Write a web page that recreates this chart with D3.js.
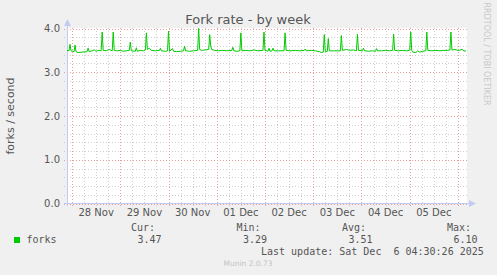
<!DOCTYPE html>
<html>
<head>
<meta charset="utf-8">
<script src="https://cdn.jsdelivr.net/npm/d3@7"></script>
<style>
  body { margin: 0; background: #f0f0f0; }
  svg { display: block; font-family: "DejaVu Sans", sans-serif; }
  .mono { font-family: "DejaVu Sans Mono", monospace; font-size: 10px; fill: #555; white-space: pre; }
</style>
</head>
<body>
<svg width="497" height="275"></svg>
<script>
// fork rate readings (30 min samples)
var times = [
  "2025-11-27 21:30","2025-11-27 22:30","2025-11-27 23:00","2025-11-27 23:30","2025-11-28 00:30","2025-11-28 01:00","2025-11-28 01:30","2025-11-28 02:00",
  "2025-11-28 03:00","2025-11-28 05:00","2025-11-28 07:30","2025-11-28 08:00","2025-11-28 08:30","2025-11-28 10:00","2025-11-28 11:00","2025-11-28 12:00",
  "2025-11-28 13:00","2025-11-28 14:30","2025-11-28 15:00","2025-11-28 15:30","2025-11-28 17:00","2025-11-28 18:30","2025-11-28 20:00","2025-11-28 20:30",
  "2025-11-28 21:00","2025-11-28 22:30","2025-11-29 00:00","2025-11-29 01:30","2025-11-29 03:00","2025-11-29 04:30","2025-11-29 05:00","2025-11-29 05:30",
  "2025-11-29 07:30","2025-11-29 08:00","2025-11-29 08:30","2025-11-29 10:00","2025-11-29 11:30","2025-11-29 12:30","2025-11-29 13:00","2025-11-29 13:30",
  "2025-11-29 14:30","2025-11-29 15:30","2025-11-29 17:30","2025-11-29 19:30","2025-11-29 20:00","2025-11-29 20:30","2025-11-29 22:30","2025-11-29 23:30",
  "2025-11-30 00:00","2025-11-30 00:30","2025-11-30 02:00","2025-11-30 02:30","2025-11-30 04:00","2025-11-30 06:00","2025-11-30 07:30","2025-11-30 08:00",
  "2025-11-30 08:30","2025-11-30 10:30","2025-11-30 12:30","2025-11-30 14:30","2025-11-30 15:00","2025-11-30 15:30","2025-11-30 16:30","2025-11-30 18:00",
  "2025-11-30 20:00","2025-11-30 20:30","2025-11-30 21:00","2025-11-30 21:30","2025-11-30 23:00","2025-12-01 01:00","2025-12-01 03:00","2025-12-01 05:00",
  "2025-12-01 07:30","2025-12-01 08:00","2025-12-01 08:30","2025-12-01 10:00","2025-12-01 11:30","2025-12-01 12:00","2025-12-01 12:30","2025-12-01 14:30",
  "2025-12-01 16:30","2025-12-01 18:30","2025-12-01 20:30","2025-12-01 23:00","2025-12-01 23:30","2025-12-02 00:00","2025-12-02 01:30","2025-12-02 02:00",
  "2025-12-02 02:30","2025-12-02 03:30","2025-12-02 04:00","2025-12-02 04:30","2025-12-02 06:30","2025-12-02 09:30","2025-12-02 10:00","2025-12-02 10:30",
  "2025-12-02 12:30","2025-12-02 15:00","2025-12-02 17:00","2025-12-02 19:30","2025-12-02 20:00","2025-12-02 20:30","2025-12-02 23:00","2025-12-03 01:00",
  "2025-12-03 03:00","2025-12-03 04:00","2025-12-03 05:00","2025-12-03 05:30","2025-12-03 06:00","2025-12-03 07:00","2025-12-03 07:30","2025-12-03 08:00",
  "2025-12-03 10:00","2025-12-03 12:00","2025-12-03 13:30","2025-12-03 14:00","2025-12-03 14:30","2025-12-03 16:30","2025-12-03 18:30","2025-12-03 20:00",
  "2025-12-03 21:30","2025-12-03 22:00","2025-12-03 22:30","2025-12-04 00:30","2025-12-04 01:00","2025-12-04 01:30","2025-12-04 03:30","2025-12-04 05:30",
  "2025-12-04 07:00","2025-12-04 07:30","2025-12-04 08:00","2025-12-04 10:00","2025-12-04 12:00","2025-12-04 14:00","2025-12-04 15:30","2025-12-04 16:00",
  "2025-12-04 16:30","2025-12-04 18:30","2025-12-04 20:30","2025-12-04 22:30","2025-12-05 00:00","2025-12-05 00:30","2025-12-05 01:00","2025-12-05 01:30",
  "2025-12-05 03:00","2025-12-05 04:00","2025-12-05 05:00","2025-12-05 06:30","2025-12-05 08:00","2025-12-05 08:30","2025-12-05 09:00","2025-12-05 11:00",
  "2025-12-05 13:00","2025-12-05 15:00","2025-12-05 17:00","2025-12-05 19:00","2025-12-05 20:00","2025-12-05 20:30","2025-12-05 21:00","2025-12-05 22:30",
  "2025-12-06 00:00","2025-12-06 01:30","2025-12-06 02:00","2025-12-06 02:30","2025-12-06 03:30","2025-12-06 04:00"
];
var forks = [
  3.50,3.49,3.64,3.49,3.48,3.47,3.62,3.47,
  3.45,3.46,3.47,3.55,3.47,3.49,3.51,3.48,
  3.50,3.49,3.92,3.50,3.49,3.52,3.49,3.92,
  3.50,3.49,3.50,3.48,3.49,3.50,3.69,3.49,
  3.48,3.56,3.48,3.50,3.49,3.51,3.90,3.52,
  3.55,3.50,3.49,3.50,3.55,3.49,3.48,3.49,
  3.94,3.48,3.54,3.48,3.47,3.48,3.49,3.60,
  3.49,3.48,3.49,3.50,4.00,3.52,3.50,3.51,
  3.52,3.86,3.60,3.52,3.50,3.49,3.50,3.49,
  3.50,3.57,3.49,3.48,3.49,3.90,3.49,3.50,
  3.49,3.51,3.49,3.50,3.92,3.50,3.48,3.55,
  3.48,3.49,3.55,3.49,3.49,3.49,3.90,3.50,
  3.49,3.50,3.49,3.50,3.53,3.49,3.50,3.49,
  3.47,3.45,3.46,3.86,3.47,3.48,3.77,3.49,
  3.49,3.49,3.49,3.84,3.50,3.52,3.50,3.51,
  3.49,3.87,3.50,3.49,3.55,3.49,3.48,3.49,
  3.48,3.54,3.49,3.49,3.50,3.49,3.50,3.87,
  3.50,3.49,3.50,3.49,3.50,3.92,3.50,3.46,
  3.45,3.49,3.46,3.48,3.49,3.92,3.50,3.49,
  3.50,3.49,3.50,3.50,3.51,3.92,3.51,3.52,
  3.50,3.51,3.53,3.50,3.48,3.50
];
var yTicks = [0, 1, 2, 3, 4];
var legendHeads = ["Cur:", "Min:", "Avg:", "Max:"];
var legendVals = ["3.47", "3.29", "3.51", "6.10"];

var svg = d3.select("svg");
var parse = d3.utcParse("%Y-%m-%d %H:%M");
var data = times.map(function(t, i) { return {t: parse(t), v: forks[i]}; });

var x = d3.scaleUtc()
    .domain([parse("2025-11-27 21:30"), parse("2025-12-06 04:30")])
    .range([67, 467]);
var y = d3.scaleLinear().domain([0, 4]).range([203.5, 28.5]);

var px = function(v) { return Math.round(v) + 0.5; };

svg.append("rect").attr("width", 497).attr("height", 275).attr("fill", "#f0f0f0");
svg.append("rect")
    .attr("x", 67).attr("y", 28)
    .attr("width", 400).attr("height", 176)
    .attr("fill", "#ffffff");

var grid = svg.append("g").attr("shape-rendering", "crispEdges");

// minor grid
var minorY = d3.range(0, 4.01, 0.2).filter(function(d) { return Math.abs(d - Math.round(d)) > 0.01; });
grid.selectAll(".hmin").data(minorY).enter().append("line")
    .attr("x1", 64).attr("x2", 467)
    .attr("y1", function(d) { return px(y(d)); }).attr("y2", function(d) { return px(y(d)); })
    .attr("stroke", "#cfcfcf").attr("stroke-dasharray", "1,2");

var sixHours = x.ticks(d3.utcHour.every(6)).filter(function(d) { return d.getUTCHours() != 0; });
grid.selectAll(".vmin").data(sixHours).enter().append("line")
    .attr("x1", function(d) { return px(x(d)); }).attr("x2", function(d) { return px(x(d)); })
    .attr("y1", 28).attr("y2", 206)
    .attr("stroke", "#cfcfcf").attr("stroke-dasharray", "1,2");

// major grid
grid.selectAll(".hmaj").data(yTicks).enter().append("line")
    .attr("x1", 64).attr("x2", 467)
    .attr("y1", function(d) { return px(y(d)); }).attr("y2", function(d) { return px(y(d)); })
    .attr("stroke", "#eba0a0").attr("stroke-dasharray", "1,2");

var days = x.ticks(d3.utcDay.every(1));
grid.selectAll(".vmaj").data(days).enter().append("line")
    .attr("x1", function(d) { return px(x(d)); }).attr("x2", function(d) { return px(x(d)); })
    .attr("y1", 28).attr("y2", 206)
    .attr("stroke", "#eba0a0").attr("stroke-dasharray", "1,2");

// y labels
svg.selectAll(".ylab").data(yTicks).enter().append("text")
    .attr("x", 60).attr("y", function(d) { return y(d); })
    .attr("dy", "0.36em")
    .attr("text-anchor", "end")
    .attr("font-size", "10px").attr("fill", "#555")
    .text(function(d) { return d3.format(".1f")(d); });

// x labels at noon
var noons = days.map(function(d) { return d3.utcHour.offset(d, 12); })
    .filter(function(d) { return x(d) < 467; });
svg.selectAll(".xlab").data(noons).enter().append("text")
    .attr("x", function(d) { return x(d); }).attr("y", 216)
    .attr("text-anchor", "middle")
    .attr("font-size", "10px").attr("fill", "#555")
    .text(d3.utcFormat("%d %b"));

// axes with arrows
var axisCol = "#c4cbf3";
svg.append("line").attr("x1", 67.5).attr("x2", 67.5).attr("y1", 206).attr("y2", 24)
    .attr("stroke", axisCol).attr("shape-rendering", "crispEdges");
svg.append("path").attr("d", "M64,26L71,26L67.5,19Z").attr("fill", axisCol);
svg.append("line").attr("x1", 64).attr("x2", 470).attr("y1", 203.5).attr("y2", 203.5)
    .attr("stroke", axisCol).attr("shape-rendering", "crispEdges");
svg.append("path").attr("d", "M469,200L469,207L476,203.5Z").attr("fill", axisCol);

// the series
svg.append("path")
    .datum(data)
    .attr("fill", "none")
    .attr("stroke", "#00cc00")
    .attr("stroke-width", 1)
    .attr("d", d3.line()
        .x(function(d) { return x(d.t); })
        .y(function(d) { return y(d.v); }));

// titles
svg.append("text")
    .attr("x", 248).attr("y", 24)
    .attr("text-anchor", "middle")
    .attr("font-size", "13px").attr("fill", "#555")
    .text("Fork rate - by week");

svg.append("text")
    .attr("transform", "translate(14,116) rotate(-90)")
    .attr("text-anchor", "middle")
    .attr("font-size", "11px").attr("fill", "#555")
    .text("forks / second");

svg.append("text")
    .attr("transform", "translate(484,54) rotate(90)")
    .attr("text-anchor", "middle")
    .attr("font-size", "8px").attr("fill", "#c8c8c8")
    .text("RRDTOOL / TOBI OETIKER");

// legend
svg.append("rect").attr("x", 14).attr("y", 237).attr("width", 6).attr("height", 6).attr("fill", "#00cc00");
svg.append("text").attr("class", "mono").attr("x", 26.5).attr("y", 243).text("forks");

var headX = [131, 236.5, 342, 447];
svg.selectAll(".head").data(legendHeads).enter().append("text")
    .attr("class", "mono")
    .attr("x", function(d, i) { return headX[i]; }).attr("y", 231)
    .text(function(d) { return d; });
svg.selectAll(".val").data(legendVals).enter().append("text")
    .attr("class", "mono")
    .attr("x", function(d, i) { return headX[i] + 6.5; }).attr("y", 243)
    .text(function(d) { return d; });

svg.append("text").attr("class", "mono").attr("x", 261).attr("y", 255)
    .text("Last update: Sat Dec  6 04:30:26 2025");

svg.append("text")
    .attr("x", 248).attr("y", 266)
    .attr("text-anchor", "middle")
    .attr("font-size", "7.5px").attr("fill", "#c4c4c4")
    .text("Munin 2.0.73");
</script>
</body>
</html>
